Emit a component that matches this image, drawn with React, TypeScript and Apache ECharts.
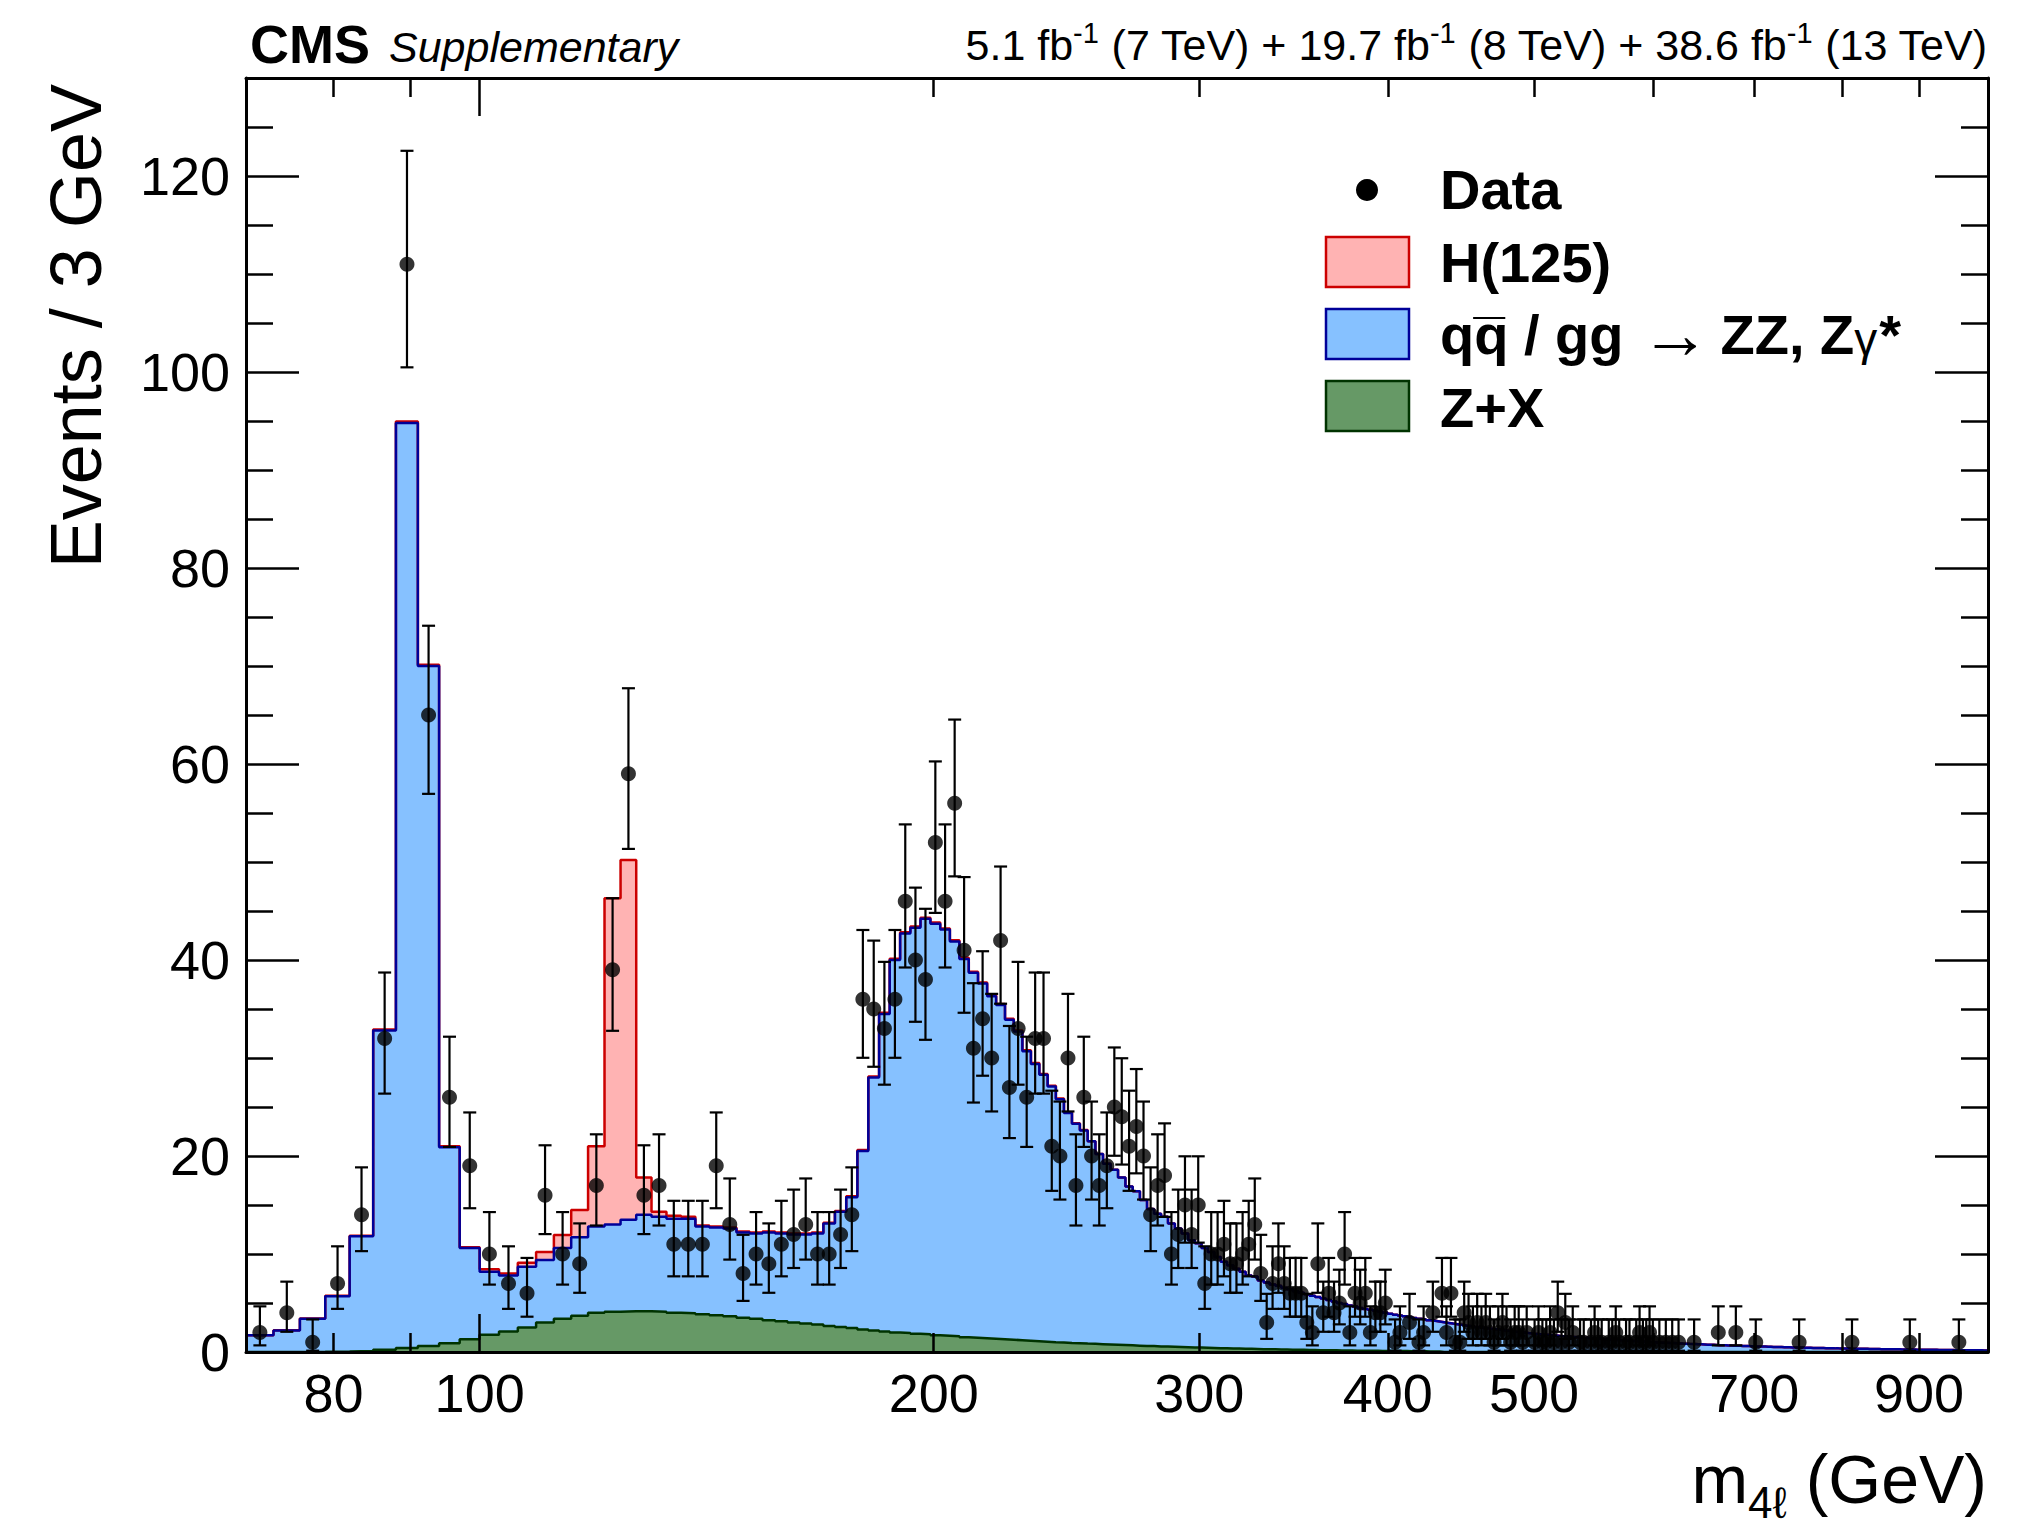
import React, { useEffect, useRef } from "react";
import * as echarts from "echarts";

// ---- binning (3 GeV bins from 70 to 1000 GeV) ----
const BIN_LOW = 70;
const BIN_WIDTH = 3;

// Z+X per bin
const zxCounts = [
  0, 0, 0.02, 0.05, 0.1, 0.24, 0.4, 0.6, 0.9, 1.3,
  1.75, 2.1, 2.5, 3.0, 3.4, 3.7, 4.0, 4.1, 4.15, 4.15,
  4.1, 4.0, 3.95, 3.85, 3.75, 3.65, 3.5, 3.4, 3.25, 3.15,
  3.0, 2.9, 2.8, 2.65, 2.55, 2.45, 2.3, 2.2, 2.1, 2.0,
  1.95, 1.85, 1.8, 1.7, 1.65, 1.6, 1.5, 1.45, 1.4, 1.35,
  1.3, 1.25, 1.2, 1.15, 1.1, 1.05, 1.0, 0.97, 0.93, 0.9,
  0.86, 0.83, 0.8, 0.77, 0.74, 0.71, 0.68, 0.65, 0.62, 0.6,
  0.57, 0.55, 0.53, 0.51, 0.49, 0.47, 0.45, 0.43, 0.41, 0.39,
  0.38, 0.36, 0.35, 0.33, 0.32, 0.31, 0.29, 0.28, 0.27, 0.26,
  0.25, 0.24, 0.23, 0.22, 0.21, 0.2, 0.19, 0.18, 0.18, 0.17,
  0.16, 0.15, 0.15, 0.14, 0.13, 0.13, 0.12, 0.12, 0.11, 0.11,
  0.1, 0.1, 0.09, 0.09, 0.08, 0.08, 0.07, 0.07, 0.06, 0.06, 0.05,
];

// qq / gg -> ZZ, Zgamma* per bin
const zzCounts = [
  1.7, 2.2, 3.38, 5.65, 11.7, 32.56, 94.4, 69.4, 20.0, 9.3,
  6.45, 5.7, 6.2, 6.4, 7.2, 8.0, 8.8, 8.9, 9.35, 9.85,
  9.7, 9.6, 9.65, 8.95, 8.95, 8.95, 8.7, 8.7, 8.95, 8.95,
  9.0, 9.1, 9.3, 10.45, 11.75, 13.35, 18.2, 25.8, 32.4, 38.0,
  40.75, 41.45, 42.4, 42.0, 41.45, 40.3, 38.6, 37.25, 36.2, 34.95,
  34.1, 32.65, 31.5, 29.55, 28.3, 27.25, 26.1, 24.83, 23.47, 22.4,
  21.74, 20.67, 19.4, 18.43, 17.86, 17.09, 16.22, 15.75, 14.88, 14.0,
  13.53, 13.25, 12.57, 12.09, 11.61, 10.93, 10.65, 10.17, 9.79, 9.31,
  8.82, 8.49, 8.15, 7.87, 7.48, 7.39, 7.01, 6.82, 6.63, 6.49,
  6.3, 6.16, 5.97, 5.83, 5.69, 5.55, 5.41, 5.27, 5.12, 4.98,
  4.84, 4.75, 4.6, 4.51, 4.37, 4.27, 4.18, 4.08, 3.99, 3.89,
  3.8, 3.71, 3.64, 3.55, 3.48, 3.4, 3.33, 3.26, 3.19, 3.12,
  3.06, 3.04, 2.97, 2.9, 2.84, 2.78, 2.71, 2.65, 2.59, 2.54,
  2.48, 2.42, 2.37, 2.32, 2.26, 2.21, 2.16, 2.12, 2.07, 2.02,
  1.98, 1.93, 1.89, 1.85, 1.82, 1.78, 1.75, 1.72, 1.69, 1.65,
  1.62, 1.59, 1.56, 1.53, 1.5, 1.48, 1.45, 1.42, 1.4, 1.37,
  1.35, 1.32, 1.3, 1.27, 1.25, 1.23, 1.2, 1.18, 1.16, 1.14,
  1.12, 1.1, 1.08, 1.06, 1.04, 1.02, 1.0, 0.98, 0.97, 0.95,
  0.94, 0.92, 0.91, 0.89, 0.88, 0.86, 0.85, 0.83, 0.82, 0.81,
  0.79, 0.78, 0.77, 0.75, 0.74, 0.73, 0.72, 0.7, 0.69, 0.68,
  0.67, 0.66, 0.65, 0.64, 0.63, 0.62, 0.61, 0.6, 0.59, 0.58,
  0.57, 0.56, 0.56, 0.55, 0.54, 0.53, 0.52, 0.52, 0.51, 0.5,
  0.49, 0.49, 0.48, 0.47, 0.47, 0.46, 0.45, 0.45, 0.44, 0.43,
  0.43, 0.42, 0.41, 0.41, 0.4, 0.4, 0.39, 0.39, 0.38, 0.38,
  0.37, 0.37, 0.36, 0.36, 0.35, 0.35, 0.35, 0.34, 0.34, 0.33,
  0.33, 0.33, 0.32, 0.32, 0.31, 0.31, 0.3, 0.3, 0.3, 0.29,
  0.29, 0.29, 0.28, 0.28, 0.28, 0.27, 0.27, 0.27, 0.26, 0.26,
  0.26, 0.25, 0.25, 0.25, 0.25, 0.24, 0.24, 0.24, 0.23, 0.23,
  0.23, 0.23, 0.22, 0.22, 0.22, 0.21, 0.21, 0.21, 0.21, 0.2,
  0.2, 0.2, 0.2, 0.19, 0.19, 0.19, 0.19, 0.18, 0.18, 0.18,
  0.18, 0.18, 0.17, 0.17, 0.17, 0.17, 0.17, 0.16, 0.16, 0.16,
];

// H(125) per bin
const higgsCounts = [
  0.02, 0.02, 0.03, 0.04, 0.06, 0.1, 0.15, 0.12, 0.1, 0.1,
  0.25, 0.2, 0.4, 0.8, 1.35, 2.8, 8.2, 33.3, 36.7, 3.8,
  0.5, 0.3, 0.2, 0.12, 0.1, 0.1, 0.1, 0.1, 0.1, 0.1,
  0.1, 0.1, 0.1, 0.1, 0.1, 0.1, 0.12, 0.12, 0.12, 0.12,
  0.12, 0.12, 0.12, 0.12, 0.12, 0.12, 0.12, 0.1, 0.1, 0.1,
  0.1, 0.1, 0.1, 0.08, 0.08, 0.08, 0.08, 0.06, 0.06, 0.05, 0.05,
];

// Observed events per bin
const dataCounts = [
  2, 4, 1, 7, 14, 32, 111, 65, 26, 19,
  10, 7, 6, 16, 10, 9, 17, 39, 59, 16,
  17, 11, 11, 11, 19, 13, 8, 10, 9, 11,
  12, 13, 10, 10, 12, 14, 36, 35, 33, 36,
  46, 40, 38, 52, 46, 56, 41, 31, 34, 30,
  42, 27, 33, 26, 32, 32, 21, 20, 30, 17,
  26, 20, 17, 19, 25, 24, 21, 23, 20, 14,
  17, 18, 10, 12, 15, 12, 15, 7, 10, 10,
  11, 9, 9, 10, 11, 13, 8, 3, 7, 9,
  7, 6, 6, 6, 3, 2, 9, 4, 6, 4,
  5, 10, 2, 6, 5, 6, 2, 4, 4, 5,
  0, 1, 2, 0, 3, 0, 1, 2, 0, 4,
  0, 6, 2, 6, 1, 1, 4, 3, 2, 3,
  2, 3, 2, 1, 2, 3, 2, 1, 2, 2,
  1, 2, 0, 1, 2, 1, 1, 2, 1, 4,
  1, 3, 1, 2, 0, 1, 1, 0, 1, 2,
  1, 1, 0, 1, 1, 2, 1, 0, 1, 1,
  0, 1, 2, 1, 1, 2, 1, 0, 1, 0,
  1, 0, 1, 0, 1, 0, 0, 0, 0, 1,
  0, 0, 0, 0, 0, 0, 0, 2, 0, 0,
  0, 0, 0, 2, 0, 0, 0, 0, 0, 0,
  1, 0, 0, 0, 0, 0, 0, 0, 0, 0,
  0, 0, 0, 0, 0, 0, 1, 0, 0, 0,
  0, 0, 0, 0, 0, 0, 0, 0, 0, 0,
  0, 0, 0, 0, 0, 0, 0, 1, 0, 0,
  0, 0, 0, 0, 0, 0, 0, 0, 0, 0,
  0, 0, 0, 0, 0, 0, 0, 0, 0, 0,
  0, 0, 1, 0, 0, 0, 0, 0, 0, 0,
  0, 0, 0, 0, 0, 0, 0, 0, 0, 0,
  0, 0, 0, 0, 0, 1, 0, 0, 0, 0,
  0, 0, 0, 0, 0, 0, 0, 0, 0, 0,
];

// axis ticks / labels
const X_MIN = 70;
const X_MAX = 1000;
const xLabelValues = [80, 100, 200, 300, 400, 500, 700, 900];
const xMajorTicks = [100];
const xMinorTicks = [80, 90, 200, 300, 400, 500, 600, 700, 800, 900];
const Y_MAX = 130;
const yLabelValues = [0, 20, 40, 60, 80, 100, 120];
const yMinorTicks = [5, 10, 15, 25, 30, 35, 45, 50, 55, 65, 70, 75, 85, 90, 95, 105, 110, 115, 125];

const FONT = "Liberation Sans, Arial, Helvetica, sans-serif";

const COLORS = {
  hFill: "#ffb3b3",
  hLine: "#cc0000",
  zzFill: "#86c1ff",
  zzLine: "#000099",
  zxFill: "#669966",
  zxLine: "#003300",
};

function buildOption() {
  const nb = zzCounts.length;
  const greenTop: number[] = [];
  const blueTop: number[] = [];
  const redTop: number[] = [];
  for (let i = 0; i < nb; i++) {
    const g = zxCounts[i] ?? 0;
    const b = g + (zzCounts[i] ?? 0);
    const r = b + (higgsCounts[i] ?? 0);
    greenTop.push(g);
    blueTop.push(b);
    redTop.push(r);
  }
  const stepData = (tops: number[]) => {
    const pts = tops.map((v, i) => [BIN_LOW + i * BIN_WIDTH, v]);
    pts.push([BIN_LOW + nb * BIN_WIDTH, tops[nb - 1]]);
    return pts;
  };

  const points: number[][] = [];
  const errors: number[][] = [];
  dataCounts.forEach((n, i) => {
    if (n > 0) {
      const x = BIN_LOW + (i + 0.5) * BIN_WIDTH;
      points.push([x, n]);
      errors.push([x, n - Math.sqrt(n - 0.25), n + 1 + Math.sqrt(n + 0.75)]);
    }
  });

  const tickLine = { color: "#000", width: 2.5 };
  const frameLine = { color: "#000", width: 3 };

  const xBase = {
    type: "log",
    logBase: 10,
    min: X_MIN,
    max: X_MAX,
    gridIndex: 0,
    z: 10,
    splitLine: { show: false },
    minorTick: { show: false },
    minorSplitLine: { show: false },
  };
  const yBase = {
    type: "value",
    min: 0,
    max: Y_MAX,
    gridIndex: 0,
    z: 10,
    splitLine: { show: false },
    minorTick: { show: false },
    minorSplitLine: { show: false },
  };

  const fmt = (v: number) => String(Math.round(v));

  return {
    animation: false,
    backgroundColor: "#ffffff",
    textStyle: { fontFamily: FONT },
    grid: { left: 246, top: 78, width: 1742, height: 1274, containLabel: false, outerBoundsMode: "none" },
    xAxis: [
      {
        ...xBase,
        position: "bottom",
        axisLine: { show: true, onZero: false, lineStyle: frameLine },
        axisTick: { show: true, inside: true, length: 38, customValues: xMajorTicks, lineStyle: tickLine },
        axisLabel: {
          show: true,
          customValues: xLabelValues,
          formatter: fmt,
          fontSize: 54,
          color: "#000",
          fontFamily: FONT,
          margin: 14,
        },
      },
      {
        ...xBase,
        position: "bottom",
        axisLine: { show: false, onZero: false },
        axisTick: { show: true, inside: true, length: 19, customValues: xMinorTicks, lineStyle: tickLine },
        axisLabel: { show: false, customValues: xMinorTicks },
      },
      {
        ...xBase,
        position: "top",
        axisLine: { show: true, onZero: false, lineStyle: frameLine },
        axisTick: { show: true, inside: true, length: 38, customValues: xMajorTicks, lineStyle: tickLine },
        axisLabel: { show: false, customValues: xMajorTicks },
      },
      {
        ...xBase,
        position: "top",
        axisLine: { show: false, onZero: false },
        axisTick: { show: true, inside: true, length: 19, customValues: xMinorTicks, lineStyle: tickLine },
        axisLabel: { show: false, customValues: xMinorTicks },
      },
    ],
    yAxis: [
      {
        ...yBase,
        position: "left",
        axisLine: { show: true, onZero: false, lineStyle: frameLine },
        axisTick: { show: true, inside: true, length: 53, customValues: yLabelValues, lineStyle: tickLine },
        axisLabel: {
          show: true,
          customValues: yLabelValues,
          formatter: fmt,
          fontSize: 54,
          color: "#000",
          fontFamily: FONT,
          margin: 16,
        },
      },
      {
        ...yBase,
        position: "left",
        axisLine: { show: false, onZero: false },
        axisTick: { show: true, inside: true, length: 27, customValues: yMinorTicks, lineStyle: tickLine },
        axisLabel: { show: false, customValues: yMinorTicks },
      },
      {
        ...yBase,
        position: "right",
        axisLine: { show: true, onZero: false, lineStyle: frameLine },
        axisTick: { show: true, inside: true, length: 53, customValues: yLabelValues, lineStyle: tickLine },
        axisLabel: { show: false, customValues: yLabelValues },
      },
      {
        ...yBase,
        position: "right",
        axisLine: { show: false, onZero: false },
        axisTick: { show: true, inside: true, length: 27, customValues: yMinorTicks, lineStyle: tickLine },
        axisLabel: { show: false, customValues: yMinorTicks },
      },
    ],
    series: [
      {
        name: "H(125)",
        type: "line",
        xAxisIndex: 0,
        yAxisIndex: 0,
        step: "end",
        symbol: "none",
        silent: true,
        z: 2,
        data: stepData(redTop),
        lineStyle: { color: COLORS.hLine, width: 2.5 },
        areaStyle: { color: COLORS.hFill, opacity: 1 },
      },
      {
        name: "ZZ",
        type: "line",
        xAxisIndex: 0,
        yAxisIndex: 0,
        step: "end",
        symbol: "none",
        silent: true,
        z: 2,
        data: stepData(blueTop),
        lineStyle: { color: COLORS.zzLine, width: 2.5 },
        areaStyle: { color: COLORS.zzFill, opacity: 1 },
      },
      {
        name: "Z+X",
        type: "line",
        xAxisIndex: 0,
        yAxisIndex: 0,
        step: "end",
        symbol: "none",
        silent: true,
        z: 2,
        data: stepData(greenTop),
        lineStyle: { color: COLORS.zxLine, width: 2.5 },
        areaStyle: { color: COLORS.zxFill, opacity: 1 },
      },
      {
        name: "errors",
        type: "custom",
        xAxisIndex: 0,
        yAxisIndex: 0,
        silent: true,
        clip: true,
        z: 4,
        data: errors,
        encode: { x: 0, y: [1, 2] },
        renderItem: (params: any, api: any) => {
          const x = api.value(0);
          const a = api.coord([x, api.value(1)]);
          const b = api.coord([x, api.value(2)]);
          const hw = 6.5;
          const st = { stroke: "#000", lineWidth: 2.2 };
          return {
            type: "group",
            children: [
              { type: "line", shape: { x1: a[0], y1: a[1], x2: b[0], y2: b[1] }, style: st },
              { type: "line", shape: { x1: a[0] - hw, y1: a[1], x2: a[0] + hw, y2: a[1] }, style: st },
              { type: "line", shape: { x1: b[0] - hw, y1: b[1], x2: b[0] + hw, y2: b[1] }, style: st },
            ],
          };
        },
      },
      {
        name: "Data",
        type: "scatter",
        xAxisIndex: 0,
        yAxisIndex: 0,
        silent: true,
        z: 5,
        symbol: "circle",
        symbolSize: 15,
        itemStyle: { color: "#000" },
        data: points,
      },
    ],
    graphic: [
      {
        type: "text",
        x: 250,
        y: 44,
        style: { text: "CMS", fontFamily: FONT, fontWeight: "bold", fontSize: 54, fill: "#000", align: "left", verticalAlign: "middle" },
      },
      {
        type: "text",
        x: 389,
        y: 47,
        style: { text: "Supplementary", fontFamily: FONT, fontStyle: "italic", fontSize: 43, fill: "#000", align: "left", verticalAlign: "middle" },
      },
      {
        type: "text",
        x: 1987,
        y: 45,
        style: {
          text: "5.1 fb{sup|-1} (7 TeV) + 19.7 fb{sup|-1} (8 TeV) + 38.6 fb{sup|-1} (13 TeV)",
          fontFamily: FONT,
          fontSize: 43,
          lineHeight: 54,
          fill: "#000",
          align: "right",
          verticalAlign: "middle",
          rich: { sup: { fontFamily: FONT, fontSize: 29, lineHeight: 29, verticalAlign: "top", fill: "#000" } },
        },
      },
      {
        type: "text",
        x: 76,
        y: 84,
        rotation: Math.PI / 2,
        style: { text: "Events / 3 GeV", fontFamily: FONT, fontSize: 72, fill: "#000", align: "right", verticalAlign: "middle" },
      },
      {
        type: "text",
        x: 1987,
        y: 1479,
        style: {
          text: "m{sub|4ℓ} (GeV)",
          fontFamily: FONT,
          fontSize: 68,
          lineHeight: 90,
          fill: "#000",
          align: "right",
          verticalAlign: "middle",
          rich: { sub: { fontFamily: FONT, fontSize: 44, lineHeight: 44, verticalAlign: "bottom", fill: "#000" } },
        },
      },
      // legend
      { type: "circle", shape: { cx: 1367, cy: 190, r: 11 }, style: { fill: "#000" } },
      { type: "rect", shape: { x: 1326, y: 237, width: 83, height: 50 }, style: { fill: COLORS.hFill, stroke: COLORS.hLine, lineWidth: 2.5 } },
      { type: "rect", shape: { x: 1326, y: 309, width: 83, height: 50 }, style: { fill: COLORS.zzFill, stroke: COLORS.zzLine, lineWidth: 2.5 } },
      { type: "rect", shape: { x: 1326, y: 381, width: 83, height: 50 }, style: { fill: COLORS.zxFill, stroke: COLORS.zxLine, lineWidth: 2.5 } },
      {
        type: "text",
        x: 1440,
        y: 189,
        style: { text: "Data", fontFamily: FONT, fontWeight: "bold", fontSize: 56, fill: "#000", align: "left", verticalAlign: "middle" },
      },
      {
        type: "text",
        x: 1440,
        y: 262,
        style: { text: "H(125)", fontFamily: FONT, fontWeight: "bold", fontSize: 56, fill: "#000", align: "left", verticalAlign: "middle" },
      },
      {
        type: "text",
        x: 1440,
        y: 334,
        style: {
          text: "{b|qq\u0305 / gg}{n|\u2192}{b|ZZ, Z}{g|\u03b3}{b|*}",
          fontFamily: FONT,
          fontSize: 56,
          lineHeight: 64,
          fill: "#000",
          align: "left",
          verticalAlign: "middle",
          rich: {
            b: { fontFamily: FONT, fontWeight: "bold", fontSize: 56, lineHeight: 64, fill: "#000" },
            n: { fontFamily: FONT, fontWeight: "normal", fontSize: 70, lineHeight: 64, fill: "#000", padding: [0, 10, 0, 17] },
            g: { fontFamily: FONT, fontWeight: "normal", fontSize: 46, lineHeight: 64, fill: "#000", padding: [10, 2, 0, 0] },
          },
        },
      },
      {
        type: "text",
        x: 1440,
        y: 407,
        style: { text: "Z+X", fontFamily: FONT, fontWeight: "bold", fontSize: 56, fill: "#000", align: "left", verticalAlign: "middle" },
      },
    ],
  };
}

export default function App() {
  const ref = useRef<HTMLDivElement | null>(null);
  useEffect(() => {
    if (!ref.current) return;
    const chart = echarts.init(ref.current, null, { renderer: "svg" });
    chart.setOption(buildOption() as any);
    return () => chart.dispose();
  }, []);
  return (
    <div
      ref={ref}
      style={{ position: "absolute", left: 0, top: 0, width: 2034, height: 1526, background: "#fff" }}
    />
  );
}
